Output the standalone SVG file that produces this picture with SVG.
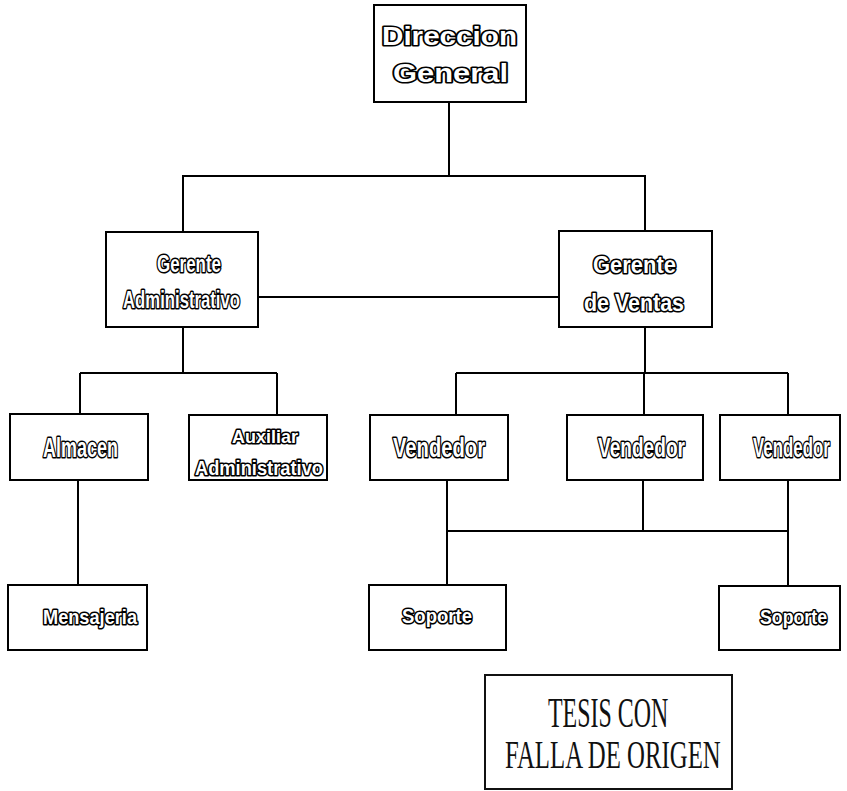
<svg xmlns="http://www.w3.org/2000/svg" width="847" height="791" viewBox="0 0 847 791">
<style>
.box{fill:#fff;stroke:#000;stroke-width:2}
.lbl{font-family:"Liberation Sans",Arial,sans-serif;font-weight:bold;fill:#fff;stroke:#000;stroke-width:3.2;paint-order:stroke;stroke-linejoin:round}
.conn line{stroke:#000;stroke-width:2}
.stamp{font-family:"Liberation Serif","Times New Roman",serif;fill:#111}
</style>
<rect width="847" height="791" fill="#fff"/>
<g class="conn" id="connectors">
<line x1="449" y1="102" x2="449" y2="176"/>
<line x1="182" y1="176" x2="646" y2="176"/>
<line x1="183" y1="176" x2="183" y2="232"/>
<line x1="645" y1="176" x2="645" y2="231"/>
<line x1="258" y1="297" x2="559" y2="297"/>
<line x1="183" y1="327" x2="183" y2="373"/>
<line x1="80" y1="373" x2="277" y2="373"/>
<line x1="80" y1="373" x2="80" y2="414"/>
<line x1="277" y1="373" x2="277" y2="415"/>
<line x1="645" y1="327" x2="645" y2="373"/>
<line x1="456" y1="373" x2="788" y2="373"/>
<line x1="456" y1="373" x2="456" y2="415"/>
<line x1="644" y1="373" x2="644" y2="415"/>
<line x1="788" y1="373" x2="788" y2="415"/>
<line x1="78" y1="480" x2="78" y2="585"/>
<line x1="447" y1="480" x2="447" y2="585"/>
<line x1="643" y1="480" x2="643" y2="531"/>
<line x1="447" y1="531" x2="788" y2="531"/>
<line x1="788" y1="480" x2="788" y2="586"/>
</g>
<g id="direccion">
<rect class="box" x="374" y="5" width="152" height="97"/>
<text class="lbl" x="382" y="45" font-size="25" textLength="135" lengthAdjust="spacingAndGlyphs">Direccion</text>
<text class="lbl" x="393" y="82" font-size="25" textLength="115" lengthAdjust="spacingAndGlyphs">General</text>
</g>
<g id="gerente-admin">
<rect class="box" x="106" y="232" width="152" height="95"/>
<text class="lbl" x="157" y="272" font-size="23" textLength="64" lengthAdjust="spacingAndGlyphs">Gerente</text>
<text class="lbl" x="123" y="308" font-size="23" textLength="117" lengthAdjust="spacingAndGlyphs">Administrativo</text>
</g>
<g id="gerente-ventas">
<rect class="box" x="559" y="231" width="153" height="96"/>
<text class="lbl" x="593" y="273" font-size="23" textLength="83" lengthAdjust="spacingAndGlyphs">Gerente</text>
<text class="lbl" x="584" y="311" font-size="23" textLength="100" lengthAdjust="spacingAndGlyphs">de Ventas</text>
</g>
<g id="almacen">
<rect class="box" x="10" y="414" width="138" height="66"/>
<text class="lbl" x="43" y="457" font-size="27" textLength="75" lengthAdjust="spacingAndGlyphs">Almacen</text>
</g>
<g id="auxiliar">
<rect class="box" x="189" y="415" width="138" height="65"/>
<text class="lbl" x="232" y="443" font-size="19" textLength="66" lengthAdjust="spacingAndGlyphs">Auxiliar</text>
<text class="lbl" x="195" y="475" font-size="20" textLength="128" lengthAdjust="spacingAndGlyphs">Administrativo</text>
</g>
<g id="vendedor1">
<rect class="box" x="370" y="415" width="138" height="65"/>
<text class="lbl" x="393" y="457" font-size="27" textLength="92" lengthAdjust="spacingAndGlyphs">Vendedor</text>
</g>
<g id="vendedor2">
<rect class="box" x="567" y="415" width="136" height="65"/>
<text class="lbl" x="598" y="457" font-size="27" textLength="87" lengthAdjust="spacingAndGlyphs">Vendedor</text>
</g>
<g id="vendedor3">
<rect class="box" x="720" y="415" width="120" height="65"/>
<text class="lbl" transform="translate(753 457) scale(0.625 1)" x="0" y="0" font-size="27">Vendedor</text>
</g>
<g id="mensajeria">
<rect class="box" x="8" y="585" width="139" height="65"/>
<text class="lbl" x="43" y="624" font-size="21" textLength="94" lengthAdjust="spacingAndGlyphs">Mensajeria</text>
</g>
<g id="soporte1">
<rect class="box" x="369" y="585" width="137" height="65"/>
<text class="lbl" x="402" y="623" font-size="21" textLength="70" lengthAdjust="spacingAndGlyphs">Soporte</text>
</g>
<g id="soporte2">
<rect class="box" x="719" y="586" width="121" height="64"/>
<text class="lbl" x="760" y="624" font-size="21" textLength="67" lengthAdjust="spacingAndGlyphs">Soporte</text>
</g>
<g id="stamp">
<rect x="485" y="675" width="247" height="114" fill="none" stroke="#111" stroke-width="2"/>
<text class="stamp" transform="translate(548 727) scale(0.57 1)" x="0" y="0" font-size="42">TESIS CON</text>
<text class="stamp" transform="translate(505 768) scale(0.62 1)" x="0" y="0" font-size="40">FALLA DE ORIGEN</text>
</g>
</svg>
